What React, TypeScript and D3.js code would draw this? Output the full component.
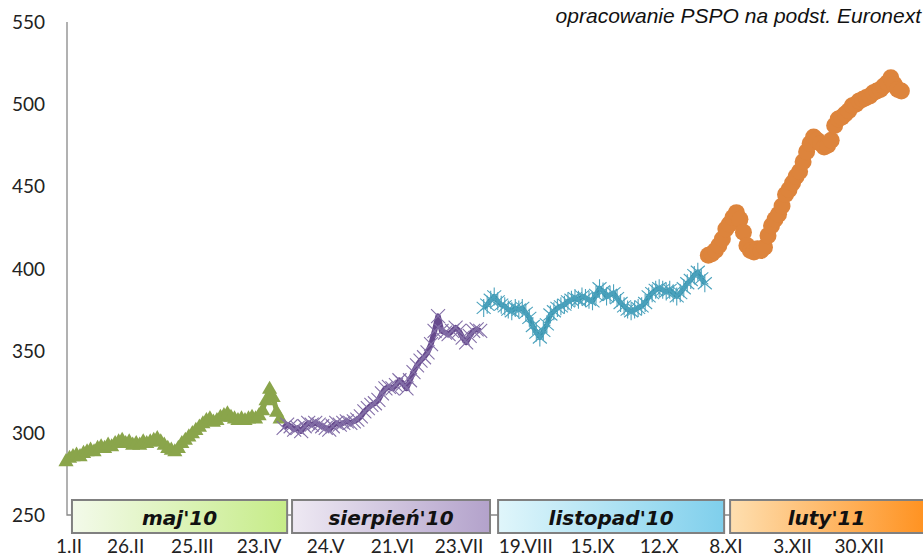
import React from 'react';
import * as d3 from 'd3';

// trading-day index of each series' first point
const greenStart = 0;
const purpleStart = 62;
const tealStart = 119;
const orangeStart = 183;

const greenVals = [
  283, 285, 286, 287, 286, 288, 289, 290, 289, 291, 292, 291, 293, 292, 294, 295,
  296, 294, 295, 293, 294, 293, 295, 294, 295, 296, 297, 295, 293, 291, 290,
  289, 291, 294, 296, 298, 300, 302, 304, 306, 308, 309, 307, 308, 310, 311, 312,
  310, 309, 308, 309, 308, 309, 310, 309, 311, 314, 320, 327, 322, 313, 309,
];
const purpleVals = [
  303, 305, 304, 302, 303, 301, 304, 306, 305, 306, 305, 304, 303, 302, 304, 306,
  305, 306, 307, 306, 307, 308, 310, 313, 315, 317, 318, 320, 324, 327,
  328, 327, 329, 332, 330, 327, 332, 337, 341, 344, 346, 349, 354, 362, 371, 362,
  361, 360, 362, 364, 362, 358, 355, 359, 362, 363, 362,
];
const tealVals = [
  376, 378, 381, 383, 380, 378, 377, 375, 374, 376, 375, 376, 373, 370, 365, 361,
  358, 362, 366, 372, 374, 376, 377, 378, 380, 381, 382, 381, 383, 382, 381, 380,
  384, 388, 386, 383, 384, 385, 382, 379, 377, 375, 374, 375, 376, 377, 379, 383,
  385, 387, 388, 387, 386, 387, 385, 383, 385, 388, 391, 393, 396, 398, 394, 391,
];
const orangeVals = [
  408, 409, 411, 414, 418, 424, 427, 431, 434, 430, 422, 414, 411, 410, 412, 411,
  413, 420, 426, 430, 433, 438, 445, 448, 452, 456, 459, 465, 471, 476, 480, 478,
  476, 474, 475, 478, 487, 491, 492, 494, 496, 499, 500, 502, 503, 504, 505, 507,
  508, 509, 511, 513, 516, 512, 509, 508,
];

const tickLabels = ['1.II', '26.II', '25.III', '23.IV', '24.V', '21.VI', '23.VII',
  '19.VIII', '15.IX', '12.X', '8.XI', '3.XII', '30.XII'];
const tickIndex = [0, 17, 36, 55, 74, 93, 112, 131, 150, 169, 188, 207, 226];
const yTicks = [250, 300, 350, 400, 450, 500, 550];
const contractNames = ["maj'10", "sierpień'10", "listopad'10", "luty'11"];

const W = 923;
const H = 557;

const x = d3.scaleLinear().domain([0, 240]).range([66, 908.4]);
const y = d3.scaleLinear().domain([250, 550]).range([515, 22]);

const toPts = (vals: number[], start: number) => vals.map((v, i) => [start + i, v] as [number, number]);

const series = [
  { pts: toPts(greenVals, greenStart), color: '#8aa54b', width: 5, marker: 'tri' },
  { pts: toPts(purpleVals, purpleStart), color: '#674a8d', width: 5.5, marker: 'x', mcolor: '#8470a8' },
  { pts: toPts(tealVals, tealStart), color: '#3a94ae', width: 5, marker: 'star', mcolor: '#4ba2bd' },
  { pts: toPts(orangeVals, orangeStart), color: '#dd843c', width: 4, marker: 'circle' },
];

// legend boxes in index units along the x axis
const boxSpans = [[1.7, 63], [64.4, 120.8], [123.1, 187.5], [189.2, 252]];
const boxGrad = [
  ['#f3faea', '#c6ec88'],
  ['#eee9f3', '#b3a2cb'],
  ['#e0f6fb', '#7fcfec'],
  ['#fedfb0', '#ff880e'],
];

const line = d3.line<[number, number]>().x(d => x(d[0])).y(d => y(d[1]));
const tri = d3.symbol(d3.symbolTriangle, 100)()!;
const xMark = 'M-7,-7L7,7M-7,7L7,-7';
const starMark = 'M-7,-6L7,6M-7,6L7,-6M0,-9L0,9';

export default function App() {
  return (
    <div style={{ position: 'fixed', left: 0, top: 0 }}>
      <svg width={W} height={H} style={{ display: 'block', background: '#fff' }}>
        <defs>
          {boxGrad.map((g, i) => (
            <linearGradient key={i} id={`bg${i}`} x1="0" x2="1" y1="0" y2="0">
              <stop offset="0%" stopColor={g[0]} />
              <stop offset="100%" stopColor={g[1]} />
            </linearGradient>
          ))}
        </defs>

        <text x={W - 2} y={23} textAnchor="end" fontFamily="Liberation Sans" fontStyle="italic"
          fontSize={21} fill="#111">opracowanie PSPO na podst. Euronext</text>

        {/* axes */}
        <path d={`M${x(0) + 1},${y(550)}V${y(250)}H${W}`} fill="none" stroke="#888" strokeWidth={1.3} />
        {yTicks.map(t => (
          <text key={t} x={45} y={y(t) + 7} textAnchor="end" fontFamily="Lato" fontSize={19} fill="#222">{t}</text>
        ))}
        {tickLabels.map((t, i) => (
          <text key={t} x={x(tickIndex[i]) + (i === 0 ? 3 : 0)} y={553} textAnchor="middle" fontFamily="Lato" fontSize={19} fill="#222">{t}</text>
        ))}

        {/* contract boxes */}
        {boxSpans.map((s, i) => (
          <g key={i}>
            <rect x={x(s[0])} y={500} width={x(s[1]) - x(s[0])} height={33}
              fill={`url(#bg${i})`} stroke="#808080" strokeWidth={2} />
            <text x={(x(s[0]) + Math.min(x(s[1]), W)) / 2} y={525} textAnchor="middle"
              fontFamily="DejaVu Sans" fontWeight="bold" fontStyle="italic" fontSize={20} fill="#111">
              {contractNames[i]}
            </text>
          </g>
        ))}

        {/* series */}
        {series.map((s, k) => (
          <g key={k}>
            <path d={line(s.pts)!} fill="none" stroke={s.color} strokeWidth={s.width} strokeLinejoin="round" />
            {s.pts.map((p, i) => {
              const t = `translate(${x(p[0])},${y(p[1])})`;
              if (s.marker === 'tri') return <path key={i} d={tri} transform={t + ' translate(0,1)'} fill={s.color} />;
              if (s.marker === 'circle') return <circle key={i} cx={x(p[0])} cy={y(p[1])} r={8.5} fill={s.color} />;
              return <path key={i} d={s.marker === 'x' ? xMark : starMark} transform={t}
                fill="none" stroke={s.mcolor} strokeWidth={1.1} />;
            })}
          </g>
        ))}
      </svg>
    </div>
  );
}
